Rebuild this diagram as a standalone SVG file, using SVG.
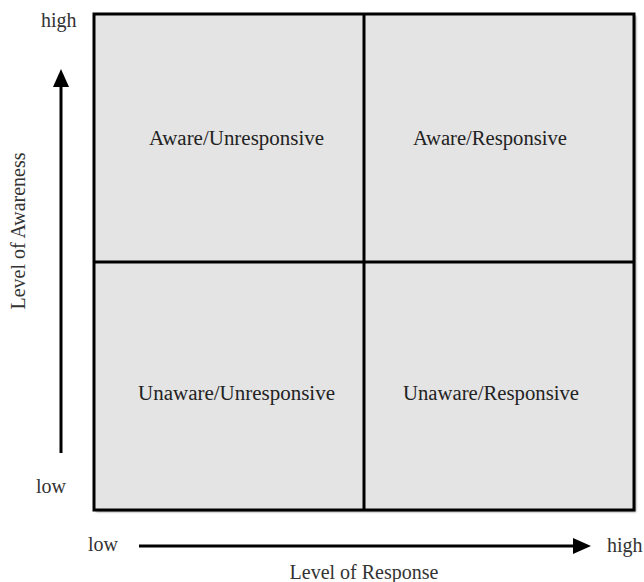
<svg xmlns="http://www.w3.org/2000/svg" width="644" height="582" viewBox="0 0 644 582">
  <defs>
    <style>
      .lbl { font-family: "Liberation Serif", "Times New Roman", serif; font-size: 20px; fill: #333333; }
      .q { font-family: "Liberation Serif", "Times New Roman", serif; font-size: 20px; fill: #222222; text-anchor: middle; }
      .cell { fill: #e4e4e4; stroke: none; }
      .div { stroke: #000000; stroke-width: 3; fill: none; }
      .axis { stroke: #000000; stroke-width: 3; fill: none; }
    </style>
    <filter id="sh" x="-5%" y="-5%" width="110%" height="110%">
      <feGaussianBlur stdDeviation="1.2"/>
    </filter>
    <marker id="ah" viewBox="0 0 18 16" refX="0" refY="8" markerWidth="18" markerHeight="16" markerUnits="userSpaceOnUse" orient="auto">
      <path d="M0,0 L18,8 L0,16 Z" fill="#000000"/>
    </marker>
  </defs>
  <rect x="0" y="0" width="644" height="582" fill="#ffffff"/>

  <!-- shadow of the matrix -->
  <rect x="96" y="16" width="540" height="496" fill="#8c8c8c" filter="url(#sh)"/>

  <g id="quadrant-aware-unresponsive">
    <rect class="cell" x="94" y="14" width="270" height="248"/>
    <text class="q" x="236.5" y="145" textLength="175" lengthAdjust="spacingAndGlyphs">Aware/Unresponsive</text>
  </g>
  <g id="quadrant-aware-responsive">
    <rect class="cell" x="364" y="14" width="270" height="248"/>
    <text class="q" x="490" y="145" textLength="154" lengthAdjust="spacingAndGlyphs">Aware/Responsive</text>
  </g>
  <g id="quadrant-unaware-unresponsive">
    <rect class="cell" x="94" y="262" width="270" height="248"/>
    <text class="q" x="236.5" y="400" textLength="197" lengthAdjust="spacingAndGlyphs">Unaware/Unresponsive</text>
  </g>
  <g id="quadrant-unaware-responsive">
    <rect class="cell" x="364" y="262" width="270" height="248"/>
    <text class="q" x="491" y="400" textLength="176" lengthAdjust="spacingAndGlyphs">Unaware/Responsive</text>
  </g>

  <g id="grid-lines">
    <rect class="div" x="94" y="14" width="540" height="496"/>
    <line class="div" x1="364" y1="14" x2="364" y2="510"/>
    <line class="div" x1="94" y1="262" x2="634" y2="262"/>
  </g>

  <g id="connectors">
    <line class="axis" x1="61" y1="453" x2="61" y2="87" marker-end="url(#ah)"/>
    <line class="axis" x1="139" y1="546" x2="573" y2="546" marker-end="url(#ah)"/>
  </g>

  <g id="axis-labels">
    <text class="lbl" x="41" y="27">high</text>
    <text class="lbl" x="36" y="493">low</text>
    <text class="lbl" x="88" y="551">low</text>
    <text class="lbl" x="607" y="552">high</text>
    <text class="lbl" x="364" y="579" text-anchor="middle">Level of Response</text>
    <text class="lbl" transform="translate(25 231) rotate(-90)" text-anchor="middle">Level of Awareness</text>
  </g>
</svg>
